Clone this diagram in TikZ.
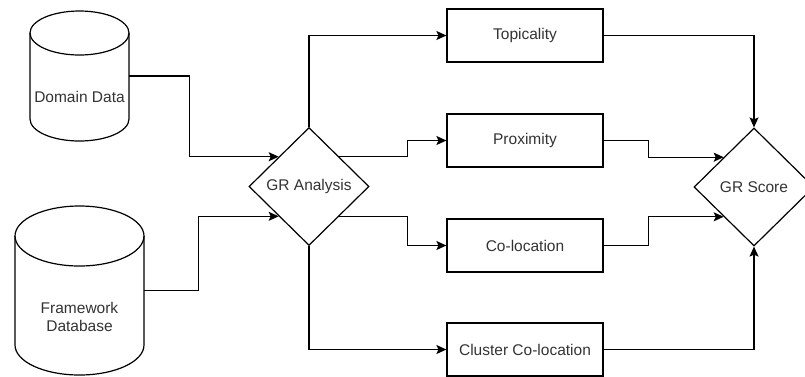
\documentclass[tikz,border=0pt]{standalone}
\usepackage{fontspec}
\setmainfont{Liberation Sans}
\usepackage{tikz}
\usetikzlibrary{arrows.meta}
\usetikzlibrary{shapes.geometric}
\tikzset{txt/.style = {text = black!80, font = \fontsize{15.5}{17.5}\selectfont, align = center, inner sep = 0}}
\tikzset{box/.style = {txt, draw = black, line width = 1.2, minimum width = 156, minimum height = 53}}
\tikzset{dia/.style = {txt, draw = black, diamond, line width = 1.2, minimum width = 120, minimum height = 118}}
\tikzset{conn/.style = {line width = 1.2, -{Stealth[length = 10, width = 9, inset = 2]}}}
\tikzset{cyl/.style = {line width = 1.2}}

\begin{document}
\begin{tikzpicture}[x = 1pt, y = 1pt]
    \useasboundingbox (0, 0) rectangle (805, -376);

    % data stores
    \node (dom) [minimum width = 99, minimum height = 130, inner sep = 0] at (79.5, -76) {};
    \draw [cyl] (30, -33) -- (30, -119) arc [start angle = 180, end angle = 360, x radius = 49.5, y radius = 22] -- (129, -33);
    \draw [cyl] (79.5, -33) ellipse [x radius = 49.5, y radius = 22];
    \node (domtxt) [txt] at (79.5, -97) {Domain Data};

    \node (fw) [minimum width = 129, minimum height = 169, inner sep = 0] at (79.5, -290.5) {};
    \draw [cyl] (15, -236) -- (15, -345) arc [start angle = 180, end angle = 360, x radius = 64.5, y radius = 30] -- (144, -236);
    \draw [cyl] (79.5, -236) ellipse [x radius = 64.5, y radius = 30];
    \node (fwtxt) [txt] at (79.5, -317) {Framework\\Database};

    % analysis and score
    \node (ana) [dia] at (309, -186.5) {GR Analysis};
    \node (score) [dia] at (754, -187) {GR Score};

    \node (top) [box] at (525, -35.5) {Topicality};
    \node (prox) [box] at (525, -140.5) {Proximity};
    \node (coloc) [box] at (525, -245.5) {Co-location};
    \node (clus) [box] at (525, -349.5) {Cluster Co-location};

    \draw [conn] (dom.east) -- ++(60, 0) |- (ana.north west);
    \draw [conn] (fw.east) -- ++(54, 0) |- (ana.south west);

    \draw [conn] (ana.north) |- (top.west);
    \draw [conn] (ana.north east) -- ++(68, 0) |- (prox.west);
    \draw [conn] (ana.south east) -- ++(68, 0) |- (coloc.west);
    \draw [conn] (ana.south) |- (clus.west);

    \draw [conn] (top.east) -| (score.north);
    \draw [conn] (prox.east) -- ++(45, 0) |- (score.north west);
    \draw [conn] (coloc.east) -- ++(45, 0) |- (score.south west);
    \draw [conn] (clus.east) -| (score.south);
\end{tikzpicture}
\end{document}
